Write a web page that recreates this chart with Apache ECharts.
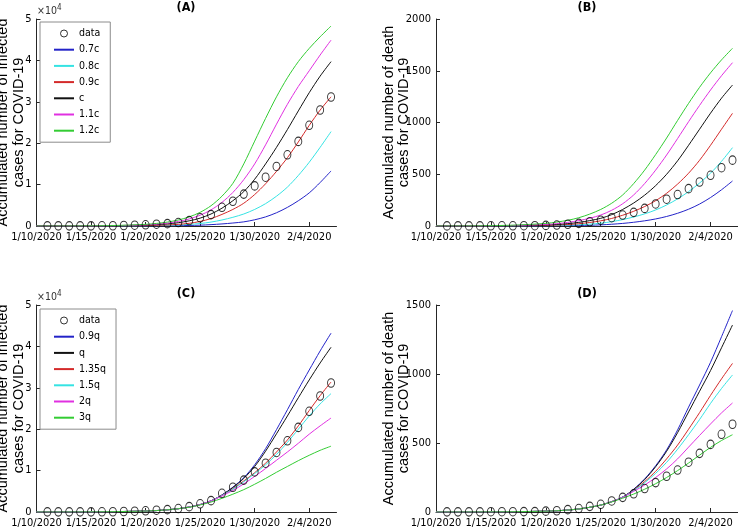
<!DOCTYPE html>
<html>
<head>
<meta charset="utf-8">
<script src="https://cdn.jsdelivr.net/npm/echarts@6/dist/echarts.min.js"></script>
<style>
html, body { margin: 0; padding: 0; background: #fff; }
#chart { width: 738px; height: 532px; }
</style>
</head>
<body>
<div id="chart"></div>
<script>
// days counted from 1/10/2020
const tickDays = [0, 5, 10, 15, 20, 25];
const tickLabels = ['1/10/2020', '1/15/2020', '1/20/2020', '1/25/2020', '1/30/2020', '2/4/2020'];

// observed data, 1/11 .. 2/6
const dataDays = [1,2,3,4,5,6,7,8,9,10,11,12,13,14,15,16,17,18,19,20,21,22,23,24,25,26,27];
const infected = [41,41,41,41,41,45,62,121,198,291,440,571,830,1287,1975,2744,4515,5974,7711,9692,11791,14380,17205,20438,24324,28018,31161];
const deaths = [1,1,1,1,2,2,2,3,3,6,9,17,25,41,56,80,106,132,170,213,259,304,361,425,490,563,636];

// model curves
const curveDays = [0, 4, 7, 10, 11, 12, 13, 14, 15, 16, 17, 18, 19, 20, 21, 22, 23, 24, 25, 26, 27];

// (A) infected, varying c
const a07c = [0, 2, 6, 20, 30, 50, 80, 130, 200, 330, 500, 720, 1000, 1500, 2200, 3200, 4500, 6100, 8000, 10500, 13300];
const a08c = [0, 5, 18, 60, 100, 150, 250, 400, 600, 950, 1450, 2100, 2900, 4000, 5400, 7200, 9400, 12200, 15400, 19000, 22800];
const a09c = [0, 8, 30, 100, 160, 250, 400, 650, 1100, 1800, 2800, 4000, 5500, 7600, 10200, 13200, 16500, 20300, 24300, 28000, 31200];
const aC   = [0, 15, 60, 210, 330, 520, 800, 1250, 1900, 2900, 4300, 6100, 8300, 11300, 15000, 19000, 23300, 27800, 32200, 36200, 39700];
const a11c = [0, 20, 80, 280, 450, 700, 1100, 1700, 2600, 3900, 5700, 8100, 11200, 15000, 19600, 24600, 29400, 33700, 37500, 41300, 44900];
const a12c = [0, 30, 110, 400, 620, 950, 1450, 2200, 3300, 4900, 7200, 10300, 15000, 20500, 26000, 31200, 35800, 39700, 42900, 45700, 48300];

// (B) deaths, varying c
const b07c = [0, 0.1, 0.4, 1, 2, 3, 5, 7, 11, 17, 25, 36, 50, 68, 92, 123, 162, 212, 275, 350, 435];
const b08c = [0, 0.3, 1, 3, 5, 8, 12, 18, 27, 42, 62, 87, 117, 155, 203, 262, 332, 415, 510, 625, 757];
const b09c = [0, 0.6, 2, 6, 9, 14, 22, 34, 50, 73, 104, 142, 188, 245, 316, 405, 510, 635, 780, 935, 1089];
const bC   = [0, 1, 3.5, 10, 15, 23, 35, 52, 74, 110, 160, 222, 298, 390, 500, 630, 780, 935, 1090, 1235, 1362];
const b11c = [0, 1.5, 5, 15, 23, 35, 52, 75, 106, 152, 215, 300, 410, 540, 686, 845, 1008, 1165, 1314, 1452, 1578];
const b12c = [0, 2, 8, 25, 38, 55, 80, 115, 160, 220, 300, 410, 540, 690, 850, 1020, 1185, 1340, 1480, 1605, 1717];

// (C) infected, varying q
const c09q  = [0, 20, 80, 230, 350, 530, 800, 1200, 1800, 2700, 4100, 6000, 8300, 11400, 15300, 19900, 24700, 29600, 34300, 38900, 43200];
const cQ    = [0, 20, 80, 230, 350, 530, 800, 1200, 1800, 2700, 4100, 5900, 8100, 11000, 14700, 18900, 23200, 27600, 31900, 36000, 39800];
const c135q = [0, 20, 80, 230, 350, 530, 800, 1200, 1800, 2700, 4000, 5600, 7500, 9500, 11800, 14500, 17400, 20800, 24500, 28100, 31400];
const c15q  = [0, 20, 80, 230, 350, 530, 800, 1200, 1800, 2700, 4000, 5500, 7300, 9300, 11400, 13900, 16800, 20000, 23200, 26100, 28600];
const c2q   = [0, 20, 80, 230, 350, 530, 800, 1200, 1800, 2650, 3900, 5200, 6800, 8600, 10500, 12500, 14500, 16600, 18800, 20800, 22700];
const c3q   = [0, 20, 80, 230, 350, 530, 800, 1150, 1700, 2400, 3300, 4300, 5400, 6700, 8100, 9600, 11000, 12400, 13700, 14900, 15900];

// (D) deaths, varying q
const d09q  = [0, 0.5, 2, 6, 9, 14, 22, 34, 50, 75, 108, 165, 240, 335, 450, 595, 760, 920, 1085, 1270, 1460];
const dQ    = [0, 0.5, 2, 6, 9, 14, 22, 34, 50, 75, 108, 163, 235, 328, 440, 575, 725, 875, 1025, 1190, 1355];
const d135q = [0, 0.5, 2, 6, 9, 14, 22, 34, 50, 75, 108, 158, 220, 295, 385, 485, 600, 720, 845, 965, 1077];
const d15q  = [0, 0.5, 2, 6, 9, 14, 22, 34, 50, 75, 108, 155, 212, 280, 360, 455, 560, 670, 787, 895, 993];
const d2q   = [0, 0.5, 2, 6, 9, 14, 22, 34, 50, 75, 106, 150, 195, 250, 312, 385, 470, 555, 638, 718, 790];
const d3q   = [0, 0.5, 2, 6, 9, 14, 22, 34, 50, 73, 100, 130, 165, 205, 250, 300, 355, 412, 468, 518, 560];

const namesC = ['0.7c', '0.8c', '0.9c', 'c', '1.1c', '1.2c'];
const namesQ = ['0.9q', 'q', '1.35q', '1.5q', '2q', '3q'];

const BLUE = '#2323c8', CYAN = '#35e3e3', RED = '#d42a2a', BLACK = '#111', MAG = '#e030e0', GREEN = '#33cc33';
const NARROW = '"Liberation Sans Narrow", "Arial Narrow", "DejaVu Sans Condensed", sans-serif';
const SANS = '"Liberation Sans", Arial, Helvetica, sans-serif';
const AXIS = '#262626';

const chart = echarts.init(document.getElementById('chart'));

const grids = [
	{left: 36.5, top: 19, width: 300, height: 207},
	{left: 436, top: 19, width: 302, height: 207},
	{left: 36.5, top: 305, width: 300, height: 207},
	{left: 436, top: 305, width: 302, height: 207},
].map(g => Object.assign(g, {outerBoundsMode: 'none', containLabel: false}));

function xAxisFor(i) {
	return {
		type: 'value', gridIndex: i, min: 0, max: 27.5,
		axisLine: {lineStyle: {color: AXIS, width: 1}},
		axisTick: {inside: true, length: 4, customValues: tickDays, lineStyle: {color: AXIS}},
		axisLabel: {
			customValues: tickDays, margin: 6, color: '#000',
			fontFamily: NARROW, fontSize: 11,
			formatter: v => tickLabels[tickDays.indexOf(v)]
		},
		splitLine: {show: false}
	};
}

function yAxisFor(i, max, interval, title, gap, fmt) {
	return {
		type: 'value', gridIndex: i, min: 0, max: max, interval: interval,
		name: title, nameLocation: 'middle', nameRotate: 90, nameGap: gap,
		nameMoveOverlap: false,
		nameTextStyle: {fontFamily: SANS, fontSize: 14.5, lineHeight: 15.5, color: '#000'},
		axisLine: {show: true, lineStyle: {color: AXIS, width: 1}},
		axisTick: {show: true, inside: true, length: 4, lineStyle: {color: AXIS}},
		axisLabel: {margin: 5, color: '#000', fontFamily: NARROW, fontSize: 11, formatter: fmt},
		splitLine: {show: false}
	};
}

const infTitle = 'Accumulated number of infected\ncases for COVID-19';
const deathTitle = 'Accumulated number of death\ncases for COVID-19';

function dataSeries(i, vals) {
	return {
		name: 'data', type: 'scatter', xAxisIndex: i, yAxisIndex: i,
		symbol: 'circle', symbolSize: [7, 8.5],
		itemStyle: {color: 'transparent', borderColor: '#000', borderWidth: 1},
		data: dataDays.map((d, k) => [d, vals[k]]),
		z: 3
	};
}

function curve(i, name, color, vals) {
	return {
		name: name, type: 'line', xAxisIndex: i, yAxisIndex: i,
		symbol: 'none', smooth: 0.3,
		lineStyle: {color: color, width: 1}, itemStyle: {color: color},
		data: curveDays.map((d, k) => [d, vals[k]]),
		z: 2
	};
}

const colorsC = [BLUE, CYAN, RED, BLACK, MAG, GREEN];
const colorsQ = [BLUE, BLACK, RED, CYAN, MAG, GREEN];

const series = [
	dataSeries(0, infected),
	...[a07c, a08c, a09c, aC, a11c, a12c].map((v, k) => curve(0, namesC[k], colorsC[k], v)),
	dataSeries(1, deaths),
	...[b07c, b08c, b09c, bC, b11c, b12c].map((v, k) => curve(1, namesC[k], colorsC[k], v)),
	dataSeries(2, infected),
	...[c09q, cQ, c135q, c15q, c2q, c3q].map((v, k) => curve(2, namesQ[k], colorsQ[k], v)),
	dataSeries(3, deaths),
	...[d09q, dQ, d135q, d15q, d2q, d3q].map((v, k) => curve(3, namesQ[k], colorsQ[k], v)),
];

function legendFor(top, names, padRight) {
	return {
		orient: 'vertical', left: 40, top: top,
		padding: [6, padRight, 6, 13],
		itemWidth: 20, itemHeight: 7, itemGap: 5.2,
		backgroundColor: '#fff', borderColor: '#8c8c8c', borderWidth: 1, borderRadius: 0,
		selectedMode: false,
		textStyle: {fontFamily: NARROW, fontSize: 10.5, lineHeight: 11, color: '#000'},
		data: [{name: 'data', icon: 'circle', itemStyle: {color: 'transparent', borderColor: '#000', borderWidth: 1}}]
			.concat(names.map(n => ({name: n, itemStyle: {opacity: 0}})))
	};
}

function panelTitle(x, y, t) {
	return {type: 'text', x: x, y: y, style: {text: t, fill: '#000', font: 'bold 12.5px ' + NARROW, align: 'center', verticalAlign: 'middle'}};
}

function expLabel(x, y) {
	return {
		type: 'text', x: x, y: y,
		style: {
			text: '{a|×10}{b|4}', fill: '#333', verticalAlign: 'middle',
			rich: {a: {fontFamily: NARROW, fontSize: 10.5}, b: {fontFamily: NARROW, fontSize: 8, padding: [0, 0, 7, 0]}}
		}
	};
}

chart.setOption({
	animation: false,
	backgroundColor: '#fff',
	grid: grids,
	xAxis: [0, 1, 2, 3].map(xAxisFor),
	yAxis: [
		yAxisFor(0, 50000, 10000, infTitle, 10, v => v / 10000),
		yAxisFor(1, 2000, 500, deathTitle, 24, v => v),
		yAxisFor(2, 50000, 10000, infTitle, 10, v => v / 10000),
		yAxisFor(3, 1500, 500, deathTitle, 24, v => v),
	],
	legend: [legendFor(22, namesC, 10), legendFor(309, namesQ, 10)],
	graphic: [
		panelTitle(186, 8, '(A)'),
		panelTitle(587, 8, '(B)'),
		panelTitle(186, 294, '(C)'),
		panelTitle(587, 294, '(D)'),
		expLabel(37, 11),
		expLabel(37, 297),
	],
	series: series
});
</script>
</body>
</html>
